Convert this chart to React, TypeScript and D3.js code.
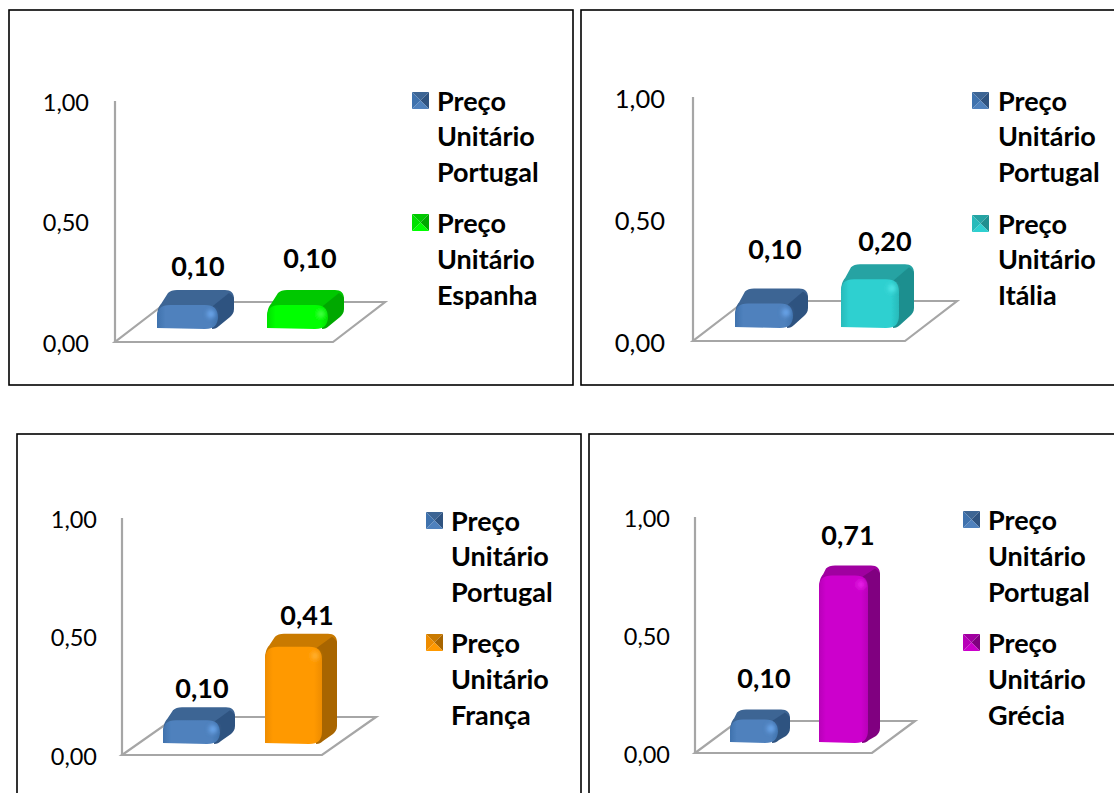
import React from "react";
import * as d3 from "d3";

const tickValues = [0, 0.5, 1];
const legendPrefix = ["Preço", "Unitário"];
const baseCountry = "Portugal";
const baseValues = [0.1, 0.1, 0.1, 0.1];
const countries = ["Espanha", "Itália", "França", "Grécia"];
const countryValues = [0.1, 0.2, 0.41, 0.71];

const fmt = (v: number) => v.toFixed(2).replace(".", ",");

type Shade = { front: string; light: string; edge: string; top: string; side: string };
const blue: Shade = { front: "#4f81bd", light: "#6aa5ea", edge: "#3f72ad", top: "#3d6594", side: "#2f5380" };
const shades: Shade[] = [
  { front: "#00ff00", light: "#44ff44", edge: "#00e000", top: "#00c800", side: "#00a800" },
  { front: "#2ed0d0", light: "#50e6e6", edge: "#28baba", top: "#25a3a3", side: "#1f8f8f" },
  { front: "#ff9900", light: "#ffb030", edge: "#ee8c00", top: "#c97a00", side: "#a86500" },
  { front: "#cc00cc", light: "#e820e8", edge: "#b800b8", top: "#a000a0", side: "#800080" },
];

type Layout = {
  box: [number, number, number, number];
  axisX: number; axisTop: number; axisBottom: number;
  floorRight: number; floorBackRight: number; floorBackY: number;
  tickX: number; tickSize: number;
  barBottom: number; barStart: [number, number]; barW: [number, number]; depth: [number, number];
  labelY: [number, number]; labelX: [number, number];
  swatchX: number; textX: number; legendY: number[];
};

const layouts: Layout[] = [
  { box: [9, 10, 564, 375], axisX: 115, axisTop: 101, axisBottom: 342, floorRight: 333, floorBackRight: 385, floorBackY: 302,
    tickX: 89, tickSize: 23.5, barBottom: 329, barStart: [157, 267], barW: [61, 61], depth: [16, 15],
    labelY: [266, 258], labelX: [198, 310], swatchX: 412, textX: 437, legendY: [101, 136, 172, 223, 259, 295] },
  { box: [581, 10, 560, 375], axisX: 693, axisTop: 97, axisBottom: 341, floorRight: 905, floorBackRight: 957, floorBackY: 301,
    tickX: 665, tickSize: 25.5, barBottom: 328, barStart: [735, 841], barW: [58, 58], depth: [15, 15],
    labelY: [249, 241], labelX: [775, 885], swatchX: 972, textX: 998, legendY: [101, 136, 172, 224, 259, 295] },
  { box: [17, 434, 564, 400], axisX: 122, axisTop: 518, axisBottom: 755, floorRight: 322, floorBackRight: 376, floorBackY: 717,
    tickX: 97, tickSize: 23.5, barBottom: 744, barStart: [163, 265], barW: [57, 57], depth: [15, 13],
    labelY: [688, 615], labelX: [202, 307], swatchX: 426, textX: 451, legendY: [521, 556, 592, 643, 679, 715] },
  { box: [589, 434, 560, 400], axisX: 695, axisTop: 517, axisBottom: 753, floorRight: 872, floorBackRight: 915, floorBackY: 721,
    tickX: 670, tickSize: 23.5, barBottom: 743, barStart: [730, 819], barW: [48, 49], depth: [12, 10],
    labelY: [678, 535], labelX: [764, 848], swatchX: 963, textX: 988, legendY: [520, 556, 592, 643, 679, 715] },
];

const FONT = "Lato, 'Open Sans', sans-serif";

function frontPath(x: number, w: number, top: number, bottom: number, r: number) {
  const p = d3.path();
  const rr = Math.min(r, (bottom - top) * 0.55);
  p.moveTo(x, bottom - 1);
  p.lineTo(x, top + rr);
  p.bezierCurveTo(x, top + rr * 0.3, x + rr * 0.3, top, x + rr, top);
  p.lineTo(x + w - rr, top);
  p.bezierCurveTo(x + w - rr * 0.3, top, x + w, top + rr * 0.3, x + w, top + rr);
  p.lineTo(x + w, bottom - rr);
  p.bezierCurveTo(x + w, bottom - rr * 0.3, x + w - rr * 0.3, bottom, x + w - rr, bottom);
  p.closePath();
  return p.toString();
}

function topPath(x: number, w: number, top: number, dx: number, dy: number, r: number) {
  const p = d3.path();
  p.moveTo(x, top + r);
  p.bezierCurveTo(x, top + r * 0.4, x + 2, top + 1, x + 4, top - 1);
  p.lineTo(x + dx - 5, top - dy + 3);
  p.bezierCurveTo(x + dx - 3, top - dy + 1, x + dx, top - dy, x + dx + 4, top - dy);
  p.lineTo(x + w + dx - 9, top - dy);
  p.bezierCurveTo(x + w + dx - 3, top - dy, x + w + dx, top - dy + 3, x + w + dx, top - dy + 9);
  p.lineTo(x + w, top + r);
  p.closePath();
  return p.toString();
}

function sidePath(x: number, w: number, top: number, bottom: number, dx: number, dy: number, r: number) {
  const p = d3.path();
  const sideTop = Math.min(top - dy + 9, bottom - dy - 6);
  p.moveTo(x + w - r * 0.4, top + 1);
  p.lineTo(x + w + dx - 5, top - dy + 3);
  p.bezierCurveTo(x + w + dx - 2, top - dy + 5, x + w + dx, sideTop - 2, x + w + dx, sideTop);
  p.lineTo(x + w + dx, bottom - dy - 5);
  p.bezierCurveTo(x + w + dx, bottom - dy - 1, x + w + dx - 2, bottom - dy + 1, x + w + dx - 4, bottom - dy + 3);
  p.lineTo(x + w + 1, bottom - 3);
  p.bezierCurveTo(x + w - 1, bottom - 1, x + w - 3, bottom, x + w - 6, bottom);
  p.closePath();
  return p.toString();
}

function Bar({ id, x, w, top, bottom, depth, shade }: { id: string; x: number; w: number; top: number; bottom: number; depth: [number, number]; shade: Shade }) {
  const [dx, dy] = depth;
  const r = 13;
  return (
    <g filter="url(#edge)">
      <linearGradient id={id} x1="0" x2="1" y1="0" y2="0">
        <stop offset="0" stopColor={shade.edge} />
        <stop offset="0.14" stopColor={shade.front} />
        <stop offset="0.86" stopColor={shade.front} />
        <stop offset="1" stopColor={shade.edge} />
      </linearGradient>
      <path d={topPath(x, w, top, dx, dy, r)} fill={shade.top} />
      <path d={sidePath(x, w, top, bottom, dx, dy, r)} fill={shade.side} />
      <path d={frontPath(x, w, top, bottom, r)} fill={`url(#${id})`} />
      <circle cx={x + w - 7} cy={top + 9} r={4} fill={shade.light} filter="url(#soft)" />
    </g>
  );
}

function Swatch({ x, y, shade }: { x: number; y: number; shade: Shade }) {
  const s = 17;
  const c = s / 2;
  const tri = (a: number[], b: number[], fill: string) => (
    <path d={d3.line()([[x + a[0], y + a[1]], [x + b[0], y + b[1]], [x + c, y + c]]) + "Z"} fill={fill} />
  );
  return (
    <g>
      {tri([0, 0], [s, 0], shade.top)}
      {tri([s, 0], [s, s], shade.side)}
      {tri([s, s], [0, s], shade.front)}
      {tri([0, s], [0, 0], shade.edge)}
    </g>
  );
}

function Panel({ index }: { index: number }) {
  const l = layouts[index];
  const yScale = d3.scaleLinear().domain([0, 1]).range([l.axisBottom, l.axisTop]);
  const h = (v: number) => yScale(0) - yScale(v);
  const vals = [baseValues[index], countryValues[index]];
  const barShades = [blue, shades[index]];
  const legends = [
    [...legendPrefix, baseCountry],
    [...legendPrefix, countries[index]],
  ];
  const floorDx = l.floorBackRight - l.floorRight;
  const floorPts: [number, number][] = [
    [l.axisX, l.axisBottom],
    [l.floorRight, l.axisBottom],
    [l.floorBackRight, l.floorBackY],
    [l.axisX + floorDx, l.floorBackY],
  ];
  return (
    <g>
      <rect x={l.box[0]} y={l.box[1]} width={l.box[2]} height={l.box[3]} fill="#fff" stroke="#000" strokeWidth={1.6} />
      <path d={d3.line()(floorPts) + "Z"} fill="#fff" stroke="#a6a6a6" strokeWidth={2.2} />
      <line x1={l.axisX} x2={l.axisX} y1={l.axisTop} y2={l.axisBottom} stroke="#a6a6a6" strokeWidth={2.2} />
      {tickValues.map((t) => (
        <text key={t} x={l.tickX} y={yScale(t) + 1.5} dy="0.36em" textAnchor="end" fontFamily={FONT} fontSize={l.tickSize} fill="#000">
          {fmt(t)}
        </text>
      ))}
      {vals.map((v, i) => (
        <g key={i}>
          <Bar id={`bar-${index}-${i}`} x={l.barStart[i]} w={l.barW[i]} top={l.barBottom - h(v)} bottom={l.barBottom} depth={l.depth} shade={barShades[i]} />
          <text x={l.labelX[i]} y={l.labelY[i]} dy="0.36em" textAnchor="middle" fontFamily={FONT} fontWeight={700} fontSize={27} fill="#000">
            {fmt(v)}
          </text>
        </g>
      ))}
      {legends.map((lines, g) => (
        <g key={g}>
          <Swatch x={l.swatchX} y={l.legendY[g * 3] - 9} shade={barShades[g]} />
          {lines.map((t, k) => (
            <text key={k} x={l.textX} y={l.legendY[g * 3 + k]} dy="0.36em" fontFamily={FONT} fontWeight={700} fontSize={27} fill="#000">
              {t}
            </text>
          ))}
        </g>
      ))}
    </g>
  );
}

export default function App() {
  return (
    <svg width={1114} height={793} viewBox="0 0 1114 793" style={{ position: "absolute", left: 0, top: 0, display: "block", background: "#fff" }}>
      <defs>
        <filter id="soft" x="-100%" y="-100%" width="300%" height="300%">
          <feGaussianBlur stdDeviation="2.2" />
        </filter>
        <filter id="edge" x="-5%" y="-5%" width="110%" height="110%">
          <feGaussianBlur stdDeviation="0.6" />
        </filter>
      </defs>
      {countries.map((_, i) => (
        <Panel key={i} index={i} />
      ))}
    </svg>
  );
}
